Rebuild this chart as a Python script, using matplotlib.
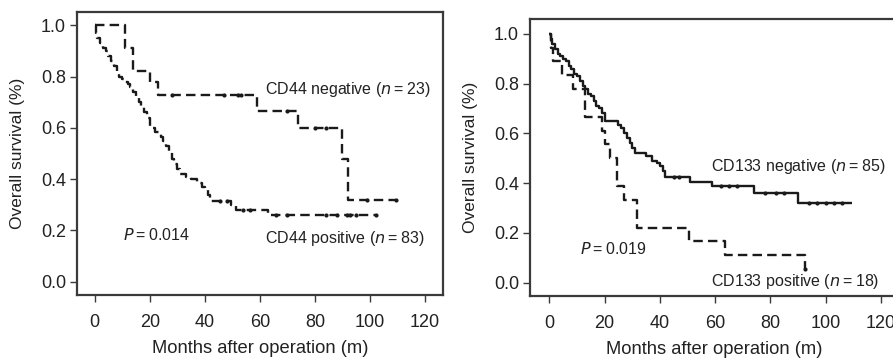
import numpy as np
import matplotlib
matplotlib.use("Agg")
import matplotlib.pyplot as plt

plt.rcParams['font.family'] = ['Liberation Sans', 'DejaVu Sans']

# ---------------- Data: left panel (CD44) ----------------
cd44_neg_t = [0, 11, 14, 20, 23, 59, 74, 90, 92]
cd44_neg_s = [1.0, 0.91, 0.82, 0.78, 0.727, 0.667, 0.60, 0.48, 0.32]
cd44_neg_end = 109.5
cd44_neg_cens = [28, 47, 52, 53, 70, 80, 84, 99, 109.5]

cd44_pos_t = [0, 0.5, 1, 2, 3, 4, 5, 6, 7, 8, 9, 10, 11, 12, 13, 14, 15, 16, 17, 18,
              19, 20, 22, 24, 25, 26, 27, 28, 29, 30, 31, 33, 35, 37, 39, 40, 41, 42,
              49.5, 51.5, 63]
cd44_pos_s = [1.0, 0.97, 0.95, 0.93, 0.91, 0.90, 0.88, 0.86, 0.84, 0.82, 0.80, 0.79,
              0.78, 0.77, 0.76, 0.74, 0.72, 0.70, 0.68, 0.66, 0.64, 0.60, 0.585, 0.565,
              0.55, 0.53, 0.51, 0.48, 0.46, 0.44, 0.42, 0.41, 0.40, 0.385, 0.37, 0.36,
              0.34, 0.316, 0.30, 0.28, 0.262]
cd44_pos_end = 102
cd44_pos_cens = [45.5, 48, 54, 56.5, 66, 70, 84, 88, 91.5, 92.7, 95, 102]

# ---------------- Data: right panel (CD133) ----------------
cd133_neg_t = [0, 0.5, 1, 2, 3, 4, 5, 6, 7, 8, 9, 10, 11, 12, 13, 14, 15, 16, 17, 18,
               19, 20, 25, 26, 27, 28, 29, 30, 31, 35, 37, 39, 40, 41, 42, 51, 59, 74, 90]
cd133_neg_s = [1.0, 0.98, 0.96, 0.94, 0.92, 0.91, 0.90, 0.89, 0.87, 0.86, 0.84, 0.83,
               0.81, 0.79, 0.78, 0.76, 0.75, 0.73, 0.71, 0.70, 0.68, 0.65, 0.635, 0.62,
               0.60, 0.58, 0.56, 0.54, 0.52, 0.51, 0.49, 0.48, 0.47, 0.45, 0.425, 0.405,
               0.388, 0.361, 0.321]
cd133_neg_end = 109.5
cd133_neg_cens = [45, 47, 62, 65, 68, 78, 82, 85, 94, 97, 100, 103, 106]

cd133_pos_t = [0, 0.5, 1.5, 4.5, 8.7, 12.9, 19, 20.2, 22.1, 24.6, 26.9, 31.7, 50.4, 63.7, 92.6]
cd133_pos_s = [1.0, 0.944, 0.889, 0.833, 0.778, 0.667, 0.611, 0.556, 0.5, 0.389, 0.333,
               0.222, 0.167, 0.111, 0.056]
cd133_pos_end = 92.6
cd133_pos_cens = [92.6]

x_ticks = [0, 20, 40, 60, 80, 100, 120]
y_ticks = [0.0, 0.2, 0.4, 0.6, 0.8, 1.0]
y_tick_labels = ['0.0', '0.2', '0.4', '0.6', '0.8', '1.0']

INK = '#1a1a1a'
SPINE = '#3a3a3a'
TXT = '#222222'


def km(ax, t, s, end, cens, dashed):
    tt = list(t) + [end]
    ss = list(s) + [s[-1]]
    ls = (0, (4.0, 2.2)) if dashed else '-'
    ax.step(tt, ss, where='post', color=INK, lw=1.7, linestyle=ls, solid_capstyle='butt')
    idx = np.searchsorted(np.array(t), np.array(cens), side='right') - 1
    ys = np.array(s)[idx]
    ax.plot(cens, ys, 'o', color=INK, ms=3.0, mew=0)


def style(ax, xlim, ylim):
    ax.set_xlim(*xlim)
    ax.set_ylim(*ylim)
    ax.set_xticks(x_ticks)
    ax.set_yticks(y_ticks)
    ax.set_yticklabels(y_tick_labels)
    for sp in ax.spines.values():
        sp.set_linewidth(1.6)
        sp.set_color(SPINE)
    ax.tick_params(axis='both', direction='out', length=5, width=1.0, color=SPINE,
                   labelsize=13, labelcolor=TXT)
    ax.tick_params(axis='x', pad=9)
    ax.tick_params(axis='y', pad=3)
    ax.set_xlabel('Months after operation (m)', fontsize=13.2, color=TXT, labelpad=6)
    ax.set_ylabel('Overall survival (%)', fontsize=12.5, color=TXT, labelpad=11.5)


fig = plt.figure(figsize=(8.93, 3.58), dpi=100)

ax1 = fig.add_axes([77 / 893, 1 - 295 / 358, (443 - 77) / 893, (295 - 12) / 358])
km(ax1, cd44_neg_t, cd44_neg_s, cd44_neg_end, cd44_neg_cens, True)
km(ax1, cd44_pos_t, cd44_pos_s, cd44_pos_end, cd44_pos_cens, True)
style(ax1, (-6.4, 126.5), (-0.052, 1.052))
ax1.text(61.9, 0.748, 'CD44 negative ($n$\u2009=\u200923)', fontsize=11.5, va='center', ha='left', color=TXT)
ax1.text(61.9, 0.17, 'CD44 positive ($n$\u2009=\u200983)', fontsize=11.5, va='center', ha='left', color=TXT)
ax1.text(10.4, 0.182, '$P$\u2009=\u20090.014', fontsize=11.5, va='center', ha='left', color=TXT)

ax2 = fig.add_axes([530 / 893, 1 - 296 / 358, (899 - 530) / 893, (296 - 19.3) / 358])
km(ax2, cd133_neg_t, cd133_neg_s, cd133_neg_end, cd133_neg_cens, False)
km(ax2, cd133_pos_t, cd133_pos_s, cd133_pos_end, cd133_pos_cens, True)
style(ax2, (-7.0, 126.5), (-0.053, 1.058))
ax2.text(58.5, 0.466, 'CD133 negative ($n$\u2009=\u200985)', fontsize=11.5, va='center', ha='left', color=TXT)
ax2.text(58.5, 0.004, 'CD133 positive ($n$\u2009=\u200918)', fontsize=11.5, va='center', ha='left', color=TXT)
ax2.text(11.1, 0.134, '$P$\u2009=\u20090.019', fontsize=11.5, va='center', ha='left', color=TXT)

fig.savefig('out.png', dpi=100)
